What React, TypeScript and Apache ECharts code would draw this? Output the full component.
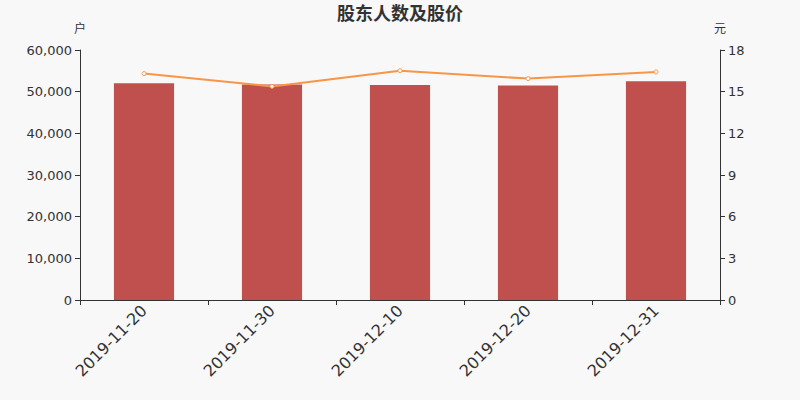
import React, { useEffect, useRef } from "react";
import * as echarts from "echarts";

const categories = ["2019-11-20", "2019-11-30", "2019-12-10", "2019-12-20", "2019-12-31"];
const holders = [52000, 51700, 51600, 51500, 52500];
const prices = [16.3, 15.38, 16.51, 15.94, 16.42];

const FONT = "DejaVu Sans, Noto Sans CJK SC, sans-serif";

export default function App() {
  const ref = useRef<HTMLDivElement>(null);
  useEffect(() => {
    document.body.style.margin = "0";
    if (!ref.current) return;
    const chart = echarts.init(ref.current, undefined, { renderer: "svg" });
    chart.setOption({
      animation: false,
      backgroundColor: "#f8f8f8",
      textStyle: { fontFamily: FONT },
      title: {
        text: "股东人数及股价",
        left: "center",
        top: -1,
        textStyle: { fontSize: 18, fontWeight: "bold", color: "#333", fontFamily: FONT },
      },
      grid: { left: 80, right: 80, top: 50, bottom: 100 },
      xAxis: {
        type: "category",
        data: categories,
        axisLine: { lineStyle: { color: "#333" } },
        axisTick: { show: true, alignWithLabel: false },
        axisLabel: { rotate: 45, fontSize: 16, color: "#333", margin: 8, fontFamily: FONT },
      },
      yAxis: [
        {
          type: "value",
          name: "户",
          min: 0,
          max: 60000,
          interval: 10000,
          axisLine: { show: true, lineStyle: { color: "#333" } },
          axisTick: { show: true },
          splitLine: { show: false },
          axisLabel: { color: "#333", fontSize: 13, fontFamily: FONT },
          nameTextStyle: { color: "#333", fontSize: 12, fontFamily: FONT },
        },
        {
          type: "value",
          name: "元",
          min: 0,
          max: 18,
          interval: 3,
          axisLine: { show: true, lineStyle: { color: "#333" } },
          axisTick: { show: true },
          splitLine: { show: false },
          axisLabel: { color: "#333", fontSize: 13, fontFamily: FONT },
          nameTextStyle: { color: "#333", fontSize: 12, fontFamily: FONT },
        },
      ],
      series: [
        {
          type: "bar",
          data: holders,
          barWidth: "47%",
          itemStyle: { color: "#c0504d" },
        },
        {
          type: "line",
          yAxisIndex: 1,
          data: prices,
          symbol: "circle",
          symbolSize: 4,
          lineStyle: { color: "#f79646", width: 2 },
          itemStyle: { color: "#fff", borderColor: "#f79646", borderWidth: 1 },
        },
      ],
    });
    return () => chart.dispose();
  }, []);
  return <div ref={ref} style={{ width: 800, height: 400 }} />;
}
